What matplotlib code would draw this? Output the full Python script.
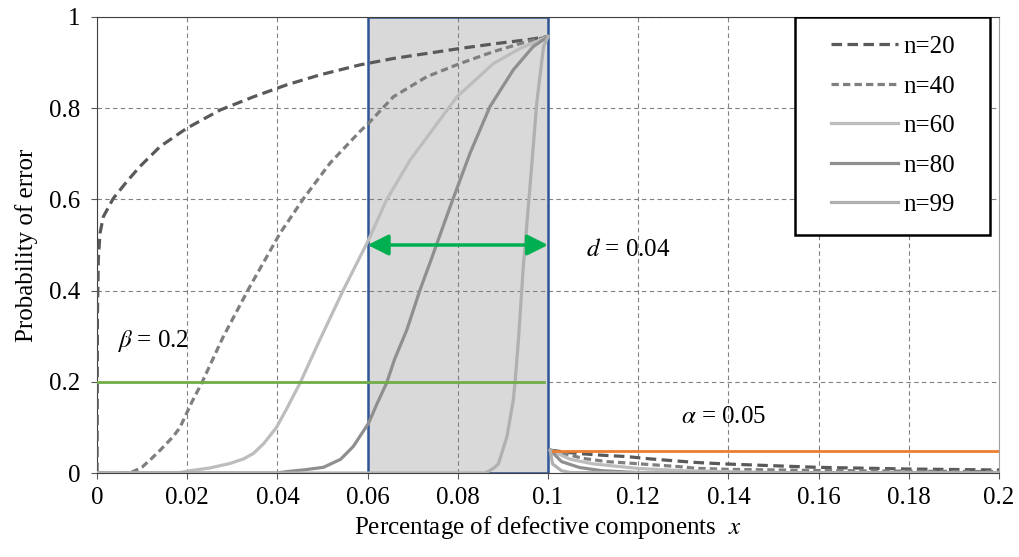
import matplotlib
matplotlib.use('Agg')
import matplotlib.pyplot as plt
from matplotlib.patches import Rectangle

plt.rcParams['font.family'] = ['Liberation Serif', 'DejaVu Serif']
plt.rcParams['mathtext.fontset'] = 'stix'
plt.rcParams['font.size'] = 18

# curve data (left part: x <= 0.1, right part: x > 0.1)
labels = ['n=20', 'n=40', 'n=60', 'n=80', 'n=99']

x_n20 = [0, 0.0001, 0.0003, 0.00067, 0.0014, 0.0036, 0.0066, 0.0095, 0.014, 0.0199, 0.0273, 0.0347,
         0.042, 0.0494, 0.0583, 0.0657, 0.0731, 0.0805, 0.0879, 0.0953, 0.1]
y_n20 = [0, 0.35, 0.47, 0.526, 0.562, 0.602, 0.639, 0.672, 0.716, 0.756, 0.796, 0.825,
         0.851, 0.873, 0.895, 0.909, 0.92, 0.931, 0.941, 0.95, 0.957]
x_n40 = [0, 0.006, 0.008, 0.01, 0.0118, 0.014, 0.0169, 0.0184, 0.021, 0.0232, 0.028, 0.0339, 0.0406,
         0.0458, 0.0517, 0.0583, 0.0605, 0.0657, 0.0731, 0.0805, 0.0879, 0.0953, 0.1]
y_n40 = [0, 0, 0.003, 0.013, 0.029, 0.05, 0.08, 0.10, 0.155, 0.197, 0.299, 0.409, 0.526,
         0.602, 0.68, 0.749, 0.77, 0.825, 0.869, 0.898, 0.924, 0.946, 0.957]
x_n60 = [0, 0.018, 0.0206, 0.025, 0.0295, 0.0325, 0.0347, 0.037, 0.0398, 0.042, 0.045, 0.0494,
         0.0546, 0.0602, 0.0642, 0.0694, 0.0798, 0.0879, 0.0938, 0.1]
y_n60 = [0, 0, 0.005, 0.011, 0.021, 0.031, 0.043, 0.065, 0.10, 0.14, 0.197, 0.292,
         0.401, 0.511, 0.599, 0.686, 0.825, 0.898, 0.931, 0.957]
x_n80 = [0, 0.04, 0.042, 0.046, 0.0502, 0.054, 0.0568, 0.0602, 0.062, 0.0642, 0.066, 0.0687, 0.0716,
         0.0742, 0.0783, 0.0827, 0.0871, 0.0923, 0.0967, 0.1]
y_n80 = [0, 0, 0.003, 0.007, 0.0125, 0.03, 0.058, 0.109, 0.15, 0.197, 0.25, 0.314, 0.401,
         0.471, 0.584, 0.701, 0.803, 0.884, 0.935, 0.957]
x_n99 = [0, 0.086, 0.087, 0.088, 0.089, 0.0909, 0.0923, 0.0927, 0.0935, 0.0945, 0.096, 0.0975, 0.099, 0.1]
y_n99 = [0, 0, 0.005, 0.011, 0.02, 0.08, 0.16, 0.2, 0.3, 0.45, 0.628, 0.811, 0.935, 0.957]

xr_n20 = [0.1005, 0.1064, 0.112, 0.1175, 0.1226, 0.1277, 0.133, 0.1396, 0.1596, 0.1795, 0.2]
yr_n20 = [0.05, 0.043, 0.039, 0.036, 0.031, 0.027, 0.023, 0.0197, 0.0125, 0.0088, 0.0066]
xr_n40 = [0.1005, 0.1078, 0.113, 0.119, 0.124, 0.129, 0.133, 0.14, 0.16, 0.18, 0.2]
yr_n40 = [0.05, 0.032, 0.025, 0.021, 0.0175, 0.014, 0.0102, 0.008, 0.0055, 0.004, 0.003]
xr_n60 = [0.1005, 0.105, 0.11, 0.12, 0.13, 0.15, 0.2]
yr_n60 = [0.05, 0.03, 0.02, 0.01, 0.005, 0.001, 0]
xr_n80 = [0.1005, 0.103, 0.107, 0.112, 0.12, 0.2]
yr_n80 = [0.05, 0.025, 0.012, 0.005, 0.001, 0]
xr_n99 = [0.1005, 0.101, 0.103, 0.105, 0.2]
yr_n99 = [0.05, 0.02, 0.005, 0.001, 0]

beta = 0.2
alpha = 0.05
p_low = 0.06
p_high = 0.1

colors = ['#595959', '#7f7f7f', '#bdbdbd', '#8f8f8f', '#b0b0b0']
dashes = [(3.3, 1.7), (2.3, 1.3), None, None, None]

left = [(x_n20, y_n20), (x_n40, y_n40), (x_n60, y_n60), (x_n80, y_n80), (x_n99, y_n99)]
right = [(xr_n20, yr_n20), (xr_n40, yr_n40), (xr_n60, yr_n60), (xr_n80, yr_n80), (xr_n99, yr_n99)]

fig = plt.figure(figsize=(10.19, 5.57), dpi=100)
ax = fig.add_axes([0.0952, 0.1508, 0.8852, 0.8187])

# shaded indifference zone: fill under the grid, blue edge above it
ax.add_patch(Rectangle((p_low, 0), p_high - p_low, 1, facecolor='#d9d9d9',
                       edgecolor='none', zorder=1))
ax.add_patch(Rectangle((p_low, 0), p_high - p_low, 1, facecolor='none',
                       edgecolor='#2f5597', lw=1.8, zorder=2.5))

handles = []
for i in range(len(labels)):
    kw = dict(color=colors[i], lw=2.3, zorder=3 + i, solid_joinstyle='round')
    if dashes[i]:
        kw['dashes'] = dashes[i]
    h, = ax.plot(left[i][0], left[i][1], label=labels[i], **kw)
    ax.plot(right[i][0], right[i][1], **kw)
    handles.append(h)

ax.plot([0, 0.099], [beta, beta], color='#70ad47', lw=2, zorder=10)
ax.plot([0.101, 0.2], [alpha - 0.001, alpha - 0.001], color='#ed7d31', lw=2, zorder=10)

ax.annotate('', xy=(p_low, 0.5), xytext=(p_high, 0.5),
            arrowprops=dict(arrowstyle='<|-|>,head_length=0.7,head_width=0.35',
                            color='#00b050', lw=2.5, shrinkA=0, shrinkB=0), zorder=11)

ax.text(0.0045, 0.29, r'$\beta$ = 0.2', fontsize=18, va='center', ha='left')
ax.text(0.1085, 0.49, r'$d$ = 0.04', fontsize=18, va='center', ha='left')
ax.text(0.1295, 0.123, r'$\alpha$ = 0.05', fontsize=18, va='center', ha='left')

ax.set_xlim(0, 0.2)
ax.set_ylim(0, 1)
xt = [0, 0.02, 0.04, 0.06, 0.08, 0.1, 0.12, 0.14, 0.16, 0.18, 0.2]
yt = [0, 0.2, 0.4, 0.6, 0.8, 1]
ax.set_xticks(xt)
ax.set_xticklabels(['%g' % v for v in xt])
ax.set_yticks(yt)
ax.set_yticklabels(['%g' % v for v in yt])
ax.tick_params(direction='out', length=4, color='#595959', labelsize=18)
ax.tick_params(axis='y', pad=8)
ax.tick_params(axis='x', pad=6)
ax.grid(True, color='#808080', lw=0.8, dashes=(4, 3))

for s in ['left', 'bottom', 'top']:
    ax.spines[s].set_color('#404040')
ax.spines['right'].set_color('#a0a0a0')

ax.set_xlabel(r'Percentage of defective components  $x$', fontsize=18, labelpad=4)
ax.set_ylabel('Probability of error', fontsize=18, labelpad=8)

# legend box
ax.add_patch(Rectangle((0.774, 0.522), 0.216, 0.478, transform=ax.transAxes,
                       facecolor='white', edgecolor='black', lw=1.8, zorder=20))
leg = ax.legend(handles=handles, loc='center', bbox_to_anchor=(0.882, 0.761),
                frameon=False, handlelength=2.7, handletextpad=0.2,
                labelspacing=0.68, fontsize=18)
leg.set_zorder(21)

fig.savefig('out.png', dpi=100)
